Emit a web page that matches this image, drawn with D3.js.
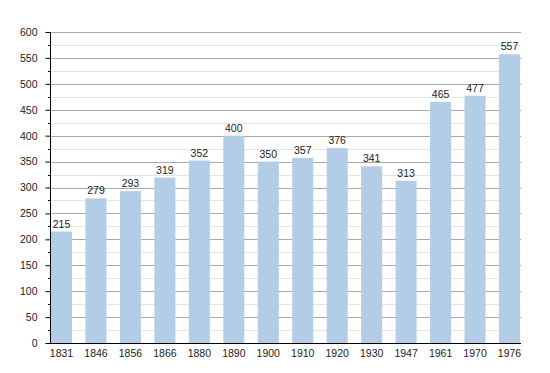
<!DOCTYPE html>
<html>
<head>
<meta charset="utf-8">
<script src="https://cdn.jsdelivr.net/npm/d3@7"></script>
<style>
body { margin: 0; background: #fff; }
text { font-family: "Liberation Sans", Arial, sans-serif; fill: #222; }
</style>
</head>
<body>
<script>
var years = ['1831','1846','1856','1866','1880','1890','1900','1910','1920','1930','1947','1961','1970','1976'];
var population = [215, 279, 293, 319, 352, 400, 350, 357, 376, 341, 313, 465, 477, 557];
var yTicks = [0, 50, 100, 150, 200, 250, 300, 350, 400, 450, 500, 550, 600];
var yMinor = [25, 75, 125, 175, 225, 275, 325, 375, 425, 475, 525, 575];

var width = 550, height = 373,
    plotLeft = 50, plotRight = 520, plotTop = 32, plotBottom = 343;

var svg = d3.select('body').append('svg').attr('width', width).attr('height', height);

var x = d3.scaleBand().domain(years).range([plotLeft + 1, plotRight]).paddingInner(0.39).paddingOuter(0);
var y = d3.scaleLinear().domain([0, 600]).range([plotBottom, plotTop]);

function py(d) { return Math.round(y(d)) + 0.5; }

// grid lines, minor first then major
svg.append('g').selectAll('line').data(yMinor).enter().append('line')
  .attr('x1', plotLeft).attr('x2', plotRight + 1)
  .attr('y1', py).attr('y2', py)
  .style('stroke', '#e4e4e4').style('stroke-width', 1);
svg.append('g').selectAll('line').data(yTicks.slice(1)).enter().append('line')
  .attr('x1', plotLeft).attr('x2', plotRight + 1)
  .attr('y1', py).attr('y2', py)
  .style('stroke', '#a9a9a9').style('stroke-width', 1);

// bars
svg.append('g').selectAll('rect').data(population).enter().append('rect')
  .attr('x', function(d, i) { return x(years[i]); })
  .attr('width', x.bandwidth())
  .attr('y', function(d) { return y(d); })
  .attr('height', function(d) { return plotBottom - y(d); })
  .style('fill', '#b3cde6');

// value labels
svg.append('g').selectAll('text').data(population).enter().append('text')
  .attr('x', function(d, i) { return x(years[i]) + x.bandwidth() / 2; })
  .attr('y', function(d) { return y(d) - 4; })
  .attr('text-anchor', 'middle')
  .style('font-size', '10.5px')
  .text(function(d) { return d; });

// y axis
var yAxis = svg.append('g').attr('transform', 'translate(' + (plotLeft + 0.5) + ',0)')
  .call(d3.axisLeft(y).tickValues(yTicks).tickSize(5).tickPadding(8));
yAxis.select('.domain').remove();
yAxis.selectAll('text').style('font-size', '10.5px').style('font-family', '"Liberation Sans", Arial, sans-serif').style('fill', '#222');
yAxis.selectAll('line').style('stroke', '#000');
svg.append('g').selectAll('line').data(yMinor).enter().append('line')
  .attr('x1', plotLeft - 2).attr('x2', plotLeft)
  .attr('y1', py).attr('y2', py)
  .style('stroke', '#000');
svg.append('line').attr('x1', plotLeft + 0.5).attr('x2', plotLeft + 0.5).attr('y1', plotTop).attr('y2', plotBottom + 1)
  .style('stroke', '#000');

// x axis
var xAxis = svg.append('g').attr('transform', 'translate(0,' + (plotBottom + 0.5) + ')')
  .call(d3.axisBottom(x).tickSize(0).tickPadding(6));
xAxis.select('.domain').remove();
xAxis.selectAll('text').style('font-size', '10.5px').style('font-family', '"Liberation Sans", Arial, sans-serif').style('fill', '#222');
svg.append('line').attr('x1', plotLeft).attr('x2', plotRight + 1).attr('y1', plotBottom + 0.5).attr('y2', plotBottom + 0.5)
  .style('stroke', '#000');
</script>
</body>
</html>
